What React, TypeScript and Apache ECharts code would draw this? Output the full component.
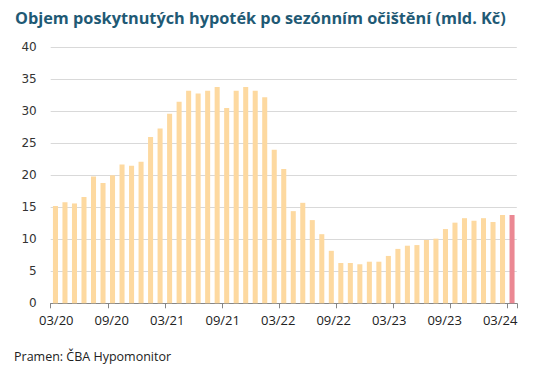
import React, { useEffect, useRef } from "react";
import * as echarts from "echarts";

const months = [
  "03/20", "04/20", "05/20", "06/20", "07/20", "08/20", "09/20", "10/20", "11/20", "12/20",
  "01/21", "02/21", "03/21", "04/21", "05/21", "06/21", "07/21", "08/21", "09/21", "10/21",
  "11/21", "12/21", "01/22", "02/22", "03/22", "04/22", "05/22", "06/22", "07/22", "08/22",
  "09/22", "10/22", "11/22", "12/22", "01/23", "02/23", "03/23", "04/23", "05/23", "06/23",
  "07/23", "08/23", "09/23", "10/23", "11/23", "12/23", "01/24", "02/24", "03/24",
];

const values = [
  15.2, 15.8, 15.6, 16.6, 19.8, 18.8, 20.0, 21.7, 21.5, 22.1,
  26.0, 27.3, 29.6, 31.5, 33.2, 32.8, 33.2, 33.8, 30.5, 33.2,
  33.8, 33.2, 32.2, 24.0, 21.0, 14.4, 15.7, 13.0, 10.8, 8.2,
  6.3, 6.3, 6.1, 6.5, 6.5, 7.4, 8.5, 9.0, 9.1, 9.9,
  10.1, 11.6, 12.6, 13.3, 12.9, 13.3, 12.7, 13.8, 13.8,
];

const tickLabels = ["03/20", "09/20", "03/21", "09/21", "03/22", "09/22", "03/23", "09/23", "03/24"];

const yTicks = { min: 0, max: 40, interval: 5 };

const TITLE = "Objem poskytnutých hypoték po sezónním očištění (mld. Kč)";
const SOURCE = "Pramen: ČBA Hypomonitor";

const BAR = "#FDD9A0";
const LAST = "#EB8893";

export default function App() {
  const ref = useRef<HTMLDivElement>(null);

  useEffect(() => {
    if (!ref.current) return;
    const chart = echarts.init(ref.current, null, { renderer: "svg" });

    // label slots: a finer boundary-aligned axis used only to place the tick labels
    const SLOTS = 85;
    const STEP = 10;
    const labelSlots: string[] = new Array(SLOTS).fill("");
    tickLabels.forEach((t, k) => {
      labelSlots[1 + k * STEP] = t;
    });

    const data = values.map((v, i) =>
      i === values.length - 1 ? { value: v, itemStyle: { color: LAST } } : v
    );

    chart.setOption({
      animation: false,
      backgroundColor: "#ffffff",
      title: [
        {
          text: TITLE,
          left: 10,
          top: 5,
          textStyle: {
            fontFamily: "Open Sans",
            fontWeight: "bold",
            fontSize: 16.3,
            color: "#1F5A75",
          },
        },
        {
          text: SOURCE,
          left: 9,
          top: 345,
          textStyle: {
            fontFamily: "Open Sans",
            fontWeight: "normal",
            fontSize: 12.5,
            color: "#222222",
          },
        },
      ],
      grid: { left: 50.7, right: 17.2, top: 47.3, bottom: 63.7, containLabel: false },
      xAxis: [
        {
          type: "category",
          data: months,
          position: "bottom",
          boundaryGap: true,
          axisLine: { show: true, lineStyle: { color: "#868686", width: 1 } },
          axisTick: { show: true, interval: 5, length: 5, lineStyle: { color: "#868686" } },
          axisLabel: { show: false },
          splitLine: { show: false },
        },
        {
          type: "category",
          data: labelSlots,
          position: "bottom",
          boundaryGap: false,
          axisLine: { show: false },
          axisTick: { show: false },
          axisLabel: {
            show: true,
            interval: 0,
            margin: 10,
            fontFamily: "Open Sans",
            fontSize: 13,
            color: "#222222",
          },
          splitLine: { show: false },
        },
      ],
      yAxis: {
        type: "value",
        min: yTicks.min,
        max: yTicks.max,
        interval: yTicks.interval,
        axisLine: { show: false },
        axisTick: { show: false },
        axisLabel: {
          margin: 14,
          fontFamily: "DejaVu Sans",
          fontSize: 12,
          color: "#333333",
        },
        splitLine: { show: true, lineStyle: { color: "#D9D9D9", width: 1 } },
      },
      series: [
        {
          type: "bar",
          xAxisIndex: 0,
          data,
          barCategoryGap: "47%",
          itemStyle: { color: BAR },
        },
      ],
    });

    return () => chart.dispose();
  }, []);

  return (
    <div
      ref={ref}
      style={{ position: "fixed", left: 0, top: 0, width: 534, height: 367 }}
    />
  );
}
